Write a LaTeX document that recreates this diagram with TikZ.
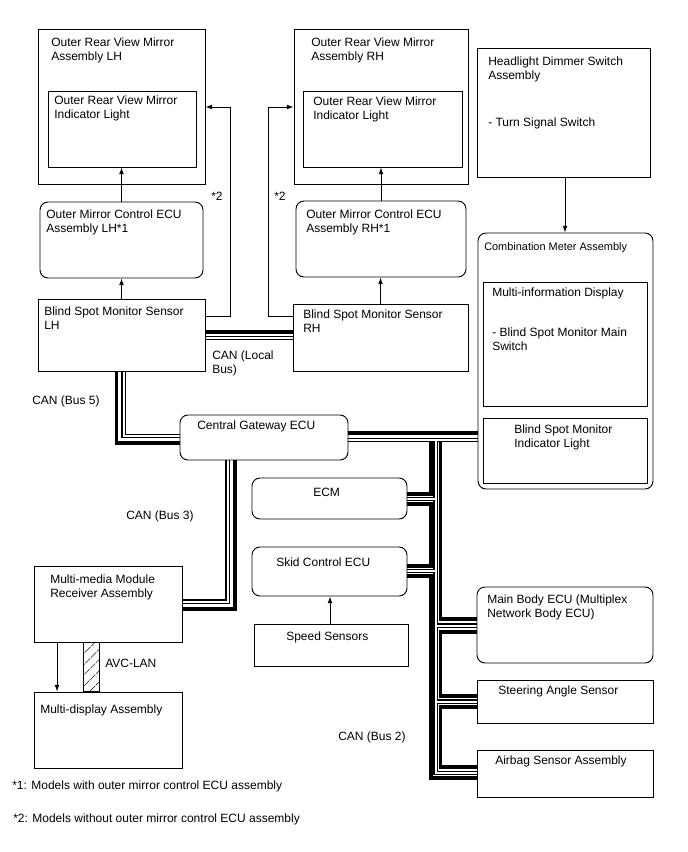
\documentclass[tikz,border=0pt]{standalone}
\usepackage{fontspec}
\setmainfont{Liberation Sans}
\usetikzlibrary{arrows.meta,fit,backgrounds,patterns.meta}

\begin{document}
\begin{tikzpicture}[x=0.75pt,y=-0.75pt,>={Latex[length=5pt,width=3.6pt]},
  box/.style={draw,line width=0.7pt,inner sep=0pt},
  ecu/.style={box,rounded corners=6pt},
  txt/.style={inner sep=0pt,align=left,anchor=base west,font=\fontsize{9}{10.5}\selectfont},
  canh/.style={line width=2.3pt},
  canl/.style={double,double distance=1.5pt,line width=0.9pt},
  link/.style={->,line width=0.7pt}]
  \useasboundingbox (0,0) rectangle (688,852);

  % outer mirrors
  \node[box,fit={(38,29) (205,184)}] (orl) {};
  \node[box,fit={(48,91) (196,167)}] (oril) {};
  \node[box,fit={(294,29) (468,184)}] (orr) {};
  \node[box,fit={(303,91) (462,167)}] (orir) {};
  \node[box,fit={(477,48) (650,177)}] (hds) {};
  \node[ecu,fit={(40,202) (203,278)}] (ecul) {};
  \node[ecu,fit={(296,201) (466,277)}] (ecur) {};
  \node[box,fit={(38,299) (205,371)}] (bsml) {};
  \node[box,fit={(293,304) (468,371)}] (bsmr) {};

  % combination meter
  \node[ecu,fit={(478,233) (653,489)}] (cmb) {};
  \node[box,fit={(483,282) (647,406)}] (mid) {};
  \node[box,fit={(483,418) (647,483)}] (bsmi) {};

  % gateway and bus 2
  \node[ecu,fit={(180,415) (348,460)}] (gw) {};
  \node[ecu,fit={(252,478) (407,519)}] (ecm) {};
  \node[ecu,fit={(252,547) (407,596)}] (skid) {};
  \node[box,fit={(254,624) (408,666)}] (spd) {};
  \node[ecu,fit={(477,587) (653,663)}] (mbe) {};
  \node[box,fit={(477,680) (653,723)}] (sas) {};
  \node[box,fit={(477,750) (653,797)}] (abg) {};

  % multimedia
  \node[box,fit={(34,566) (182,642)}] (mmr) {};
  \node[box,fit={(34,692) (182,768)}] (mdp) {};

  % texts (base = last line)
  \node[txt] (orlT) at (51,60.5) {Outer Rear View Mirror\\Assembly LH};
  \node[txt] (orilT) at (54,119) {Outer Rear View Mirror\\Indicator Light};
  \node[txt] (orrT) at (311,60.5) {Outer Rear View Mirror\\Assembly RH};
  \node[txt] (orirT) at (313,119.5) {Outer Rear View Mirror\\Indicator Light};
  \node[txt] (hdsT) at (488,127) {Headlight Dimmer Switch\\Assembly\\[25pt]- Turn Signal Switch};
  \node[txt] (eculT) at (46,233) {Outer Mirror Control ECU\\Assembly LH*1};
  \node[txt] (ecurT) at (306,233) {Outer Mirror Control ECU\\Assembly RH*1};
  \node[txt] (bsmlT) at (44,329) {Blind Spot Monitor Sensor\\LH};
  \node[txt] (bsmrT) at (303,332) {Blind Spot Monitor Sensor\\RH};
  \node[txt] (starL) at (211,200.5) {*2};
  \node[txt] (starR) at (274,201) {*2};
  \node[txt] (canLoc) at (212,373) {CAN (Local\\Bus)};
  \node[txt] (canFive) at (32,404) {CAN (Bus 5)};
  \node[txt,font=\fontsize{8.2}{10}\selectfont] (cmbT) at (484,250.5) {Combination Meter Assembly};
  \node[txt] (midT) at (492,350) {Multi-information Display\\[19pt]- Blind Spot Monitor Main\\Switch};
  \node[txt] (bsmiT) at (514,447) {Blind Spot Monitor\\Indicator Light};
  \node[txt] (gwT) at (197,429.5) {Central Gateway ECU};
  \node[txt] (ecmT) at (313,496) {ECM};
  \node[txt] (canThree) at (126,519.5) {CAN (Bus 3)};
  \node[txt] (skidT) at (276,566.5) {Skid Control ECU};
  \node[txt] (mmrT) at (50,597) {Multi-media Module\\Receiver Assembly};
  \node[txt] (spdT) at (286,640) {Speed Sensors};
  \node[txt] (avc) at (105,667) {AVC-LAN};
  \node[txt] (mdpT) at (40,713.5) {Multi-display Assembly};
  \node[txt] (mbeT) at (487,617.5) {Main Body ECU (Multiplex\\Network Body ECU)};
  \node[txt] (sasT) at (498,694) {Steering Angle Sensor};
  \node[txt] (abgT) at (495,764.5) {Airbag Sensor Assembly};
  \node[txt] (canTwo) at (338,740) {CAN (Bus 2)};
  \node[txt] (noteA) at (12,789) {*1: Models with outer mirror control ECU assembly};
  \node[txt] (noteB) at (13,822) {*2: Models without outer mirror control ECU assembly};

  % signal lines
  \draw[link] (ecul.north) -- (ecul.north |- oril.south);
  \draw[link] (bsml.north) -- (bsml.north |- ecul.south);
  \draw[link] (ecur.north) -- (ecur.north |- orir.south);
  \draw[link] (bsmr.north) -- (bsmr.north |- ecur.south);
  \draw[link] (bsml.east |- 0,316) -| (230,107) -- (orl.east |- 0,107);
  \draw[link] (bsmr.west |- 0,316) -| (268,107) -- (orr.west |- 0,107);
  \draw[link] (hds.south -| 565,0) -- (cmb.north -| 565,0);
  \draw[link] (spd.north -| 330,0) -- (skid.south -| 330,0);
  \draw[link] (mmr.south -| 57,0) -- (mdp.north -| 57,0);
  \draw[line width=0.7pt,pattern={Lines[angle=45,distance=6.5pt,line width=0.6pt]}]
    (mmr.south -| 83,0) rectangle (mdp.north -| 99,0);

  % CAN buses
  \begin{scope}[on background layer]
    \draw[canh] (bsml.east |- 0,332) -- (bsmr.west |- 0,332)
      (bsml.south -| 116.5,0) |- (gw.west |- 0,443)
      (gw.south -| 235,0) |- (mmr.east |- 0,609)
      (gw.east |- 0,433) -- (cmb.west |- 0,433)
      (431,441.5) |- (ecm.east |- 0,494)
      (ecm.east |- 0,504) -| (431,566) -- (skid.east |- 0,566)
      (skid.east |- 0,576) -| (431,778) -- (abg.west |- 0,778)
      (440.5,441.5) |- (mbe.west |- 0,619)
      (mbe.west |- 0,632) -| (440.5,696) -- (sas.west |- 0,696)
      (sas.west |- 0,707) -| (440.5,767) -- (abg.west |- 0,767);
    \draw[canl] (bsml.east |- 0,338) -- (bsmr.west |- 0,338)
      (bsml.south -| 123.5,0) |- (gw.west |- 0,436)
      (gw.south -| 227.5,0) |- (mmr.east |- 0,601.5)
      (gw.east |- 0,440) -- (cmb.west |- 0,440)
      (435.5,440) |- (abg.west |- 0,773)
      (ecm.east |- 0,499) -- (435.5,499)
      (skid.east |- 0,571) -- (435.5,571)
      (mbe.west |- 0,625.5) -- (435.5,625.5)
      (sas.west |- 0,701.5) -- (435.5,701.5);
  \end{scope}
\end{tikzpicture}
\end{document}
